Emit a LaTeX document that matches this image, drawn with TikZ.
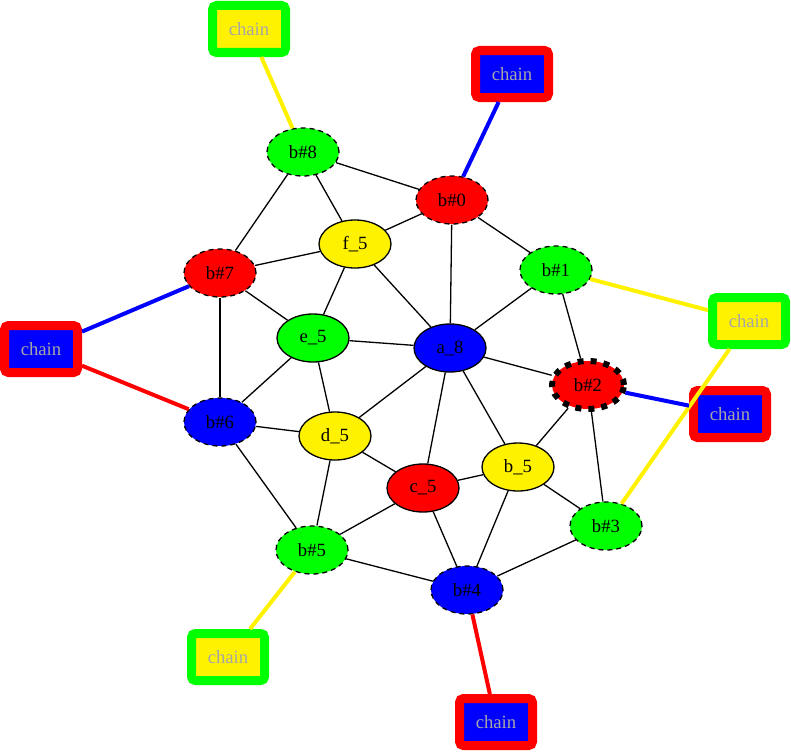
\documentclass[tikz,border=0pt]{standalone}
\usepackage{fontspec}
\setmainfont{Liberation Serif}
\usetikzlibrary{shapes.geometric}

\begin{document}
\begin{tikzpicture}[x=1pt, y=-1pt, line width=1.3pt,
		vtx/.style={ellipse, draw, line width=1.3pt, minimum width=72pt, minimum height=48pt, inner sep=0pt, font=\fontsize{18.7}{22}\selectfont},
		bnd/.style={vtx, dash pattern=on 5pt off 4pt},
		chainbox/.style={rectangle, rounded corners=4pt, line width=9pt, minimum width=73pt, minimum height=47pt, inner sep=0pt, text=gray!70, font=\fontsize{18.7}{22}\selectfont},
		link/.style={line width=4pt}
	]
	\useasboundingbox (0, 0) rectangle (791, 752);
	
	\node[bnd, fill=green] (b8) at (303, 152) {b\#8};
	\node[bnd, fill=red] (b0) at (452, 200) {b\#0};
	\node[vtx, fill=yellow] (f) at (355, 244) {f\_5};
	\node[bnd, fill=green] (b1) at (556, 270) {b\#1};
	\node[bnd, fill=red] (b7) at (220, 273) {b\#7};
	\node[vtx, fill=green] (e) at (313, 338) {e\_5};
	\node[vtx, fill=blue] (a) at (450, 348) {a\_8};
	\node[vtx, fill=red, line width=6pt, dash pattern=on 6pt off 7pt] (b2) at (588, 385) {b\#2};
	\node[bnd, fill=blue] (b6) at (220, 422) {b\#6};
	\node[vtx, fill=yellow] (d) at (335, 436) {d\_5};
	\node[vtx, fill=yellow] (bb) at (518, 467) {b\_5};
	\node[vtx, fill=red] (c) at (423, 488) {c\_5};
	\node[bnd, fill=green] (b3) at (606, 526) {b\#3};
	\node[bnd, fill=green] (b5) at (312, 550) {b\#5};
	\node[bnd, fill=blue] (b4) at (467, 590) {b\#4};
	
	\node[chainbox, draw=green, fill=yellow] (ch8) at (249, 29) {chain};
	\node[chainbox, draw=red, fill=blue] (ch0) at (512, 74) {chain};
	\node[chainbox, draw=red, fill=blue] (ch7) at (41, 349) {chain};
	\node[chainbox, draw=green, fill=yellow] (ch1) at (749, 321) {chain};
	\node[chainbox, draw=red, fill=blue] (ch2) at (730, 414) {chain};
	\node[chainbox, draw=green, fill=yellow] (ch5) at (228, 657) {chain};
	\node[chainbox, draw=red, fill=blue] (ch4) at (496, 722) {chain};
	
	\draw (b8) -- (b0);
	\draw (b8) -- (f);
	\draw (b8) -- (b7);
	\draw (b0) -- (f);
	\draw (b0) -- (b1);
	\draw (b0) -- (a);
	\draw (f) -- (b7);
	\draw (f) -- (e);
	\draw (f) -- (a);
	\draw (b1) -- (a);
	\draw (b1) -- (b2);
	\draw (b7) -- (e);
	\draw (b7) -- (b6);
	\draw (e) -- (a);
	\draw (e) -- (b6);
	\draw (e) -- (d);
	\draw (a) -- (b2);
	\draw (a) -- (d);
	\draw (a) -- (c);
	\draw (a) -- (bb);
	\draw (b2) -- (bb);
	\draw (b2) -- (b3);
	\draw (b6) -- (d);
	\draw (b6) -- (b5);
	\draw (d) -- (c);
	\draw (d) -- (b5);
	\draw (bb) -- (c);
	\draw (bb) -- (b3);
	\draw (bb) -- (b4);
	\draw (c) -- (b5);
	\draw (c) -- (b4);
	\draw (b3) -- (b4);
	\draw (b5) -- (b4);
	
	\draw[link, yellow] (ch8) -- (b8);
	\draw[link, blue] (ch0) -- (b0);
	\draw[link, blue] (ch7) -- (b7);
	\draw[link, red] (ch7) -- (b6);
	\draw[link, yellow] (ch1) -- (b1);
	\draw[link, yellow] (ch1) -- (b3);
	\draw[link, blue] (ch2) -- (b2);
	\draw[link, yellow] (ch5) -- (b5);
	\draw[link, red] (ch4) -- (b4);
\end{tikzpicture}
\end{document}
